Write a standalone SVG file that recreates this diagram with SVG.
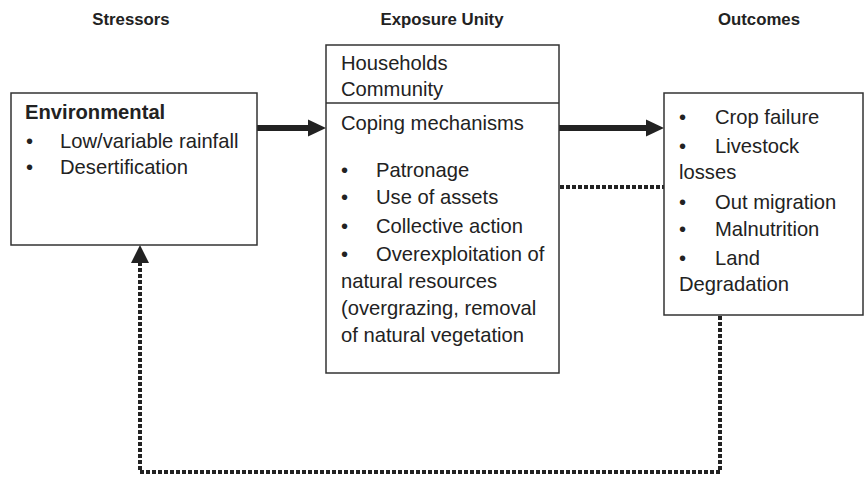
<svg xmlns="http://www.w3.org/2000/svg" width="865" height="487" viewBox="0 0 865 487">
<style>
.box{fill:#fff;stroke:#333;stroke-width:1.5}
.t{font-family:"Liberation Sans",Arial,sans-serif;font-size:20.2px;fill:#222}
.b{font-weight:bold}
.h{font-family:"Liberation Sans",Arial,sans-serif;font-size:16.8px;font-weight:bold;fill:#222;text-anchor:middle}
.solid{stroke:#222;stroke-width:6;fill:none}
.dot{stroke:#222;stroke-width:4;fill:none;stroke-dasharray:4 2}
.head{fill:#222}
</style>
<rect width="865" height="487" fill="#fff"/>
<g id="headers">
<text class="h" x="131" y="25">Stressors</text>
<text class="h" x="442" y="25">Exposure Unity</text>
<text class="h" x="759" y="25">Outcomes</text>
</g>
<g id="connectors">
<line class="solid" x1="257" y1="128" x2="310" y2="128"/>
<polygon class="head" points="308,119.5 326,128 308,136.5"/>
<line class="solid" x1="559" y1="128" x2="648" y2="128"/>
<polygon class="head" points="646,119.5 664,128 646,136.5"/>
<line class="dot" x1="560" y1="187" x2="664" y2="187"/>
<path class="dot" d="M720 316 V472 H140 V262"/>
<polygon class="head" points="131,263 140,245 149,263"/>
</g>
<g id="stressors">
<rect class="box" x="11" y="93" width="246" height="152"/>
<text class="t b" x="25" y="119">Environmental</text>
<text class="t" x="26" y="148">•</text><text class="t" x="60" y="148">Low/variable rainfall</text>
<text class="t" x="26" y="174">•</text><text class="t" x="60" y="174">Desertification</text>
</g>
<g id="exposure">
<rect class="box" x="326" y="45" width="233" height="328"/>
<line x1="326" y1="103" x2="559" y2="103" stroke="#333" stroke-width="1.5"/>
<text class="t" x="341" y="70">Households</text>
<text class="t" x="341" y="96">Community</text>
<text class="t" x="341" y="130">Coping mechanisms</text>
<text class="t" x="341" y="177">•</text><text class="t" x="376" y="177">Patronage</text>
<text class="t" x="341" y="204">•</text><text class="t" x="376" y="204">Use of assets</text>
<text class="t" x="341" y="233">•</text><text class="t" x="376" y="233">Collective action</text>
<text class="t" x="341" y="261">•</text><text class="t" x="376" y="261">Overexploitation of</text>
<text class="t" x="341" y="288">natural resources</text>
<text class="t" x="341" y="315">(overgrazing, removal</text>
<text class="t" x="341" y="342">of natural vegetation</text>
</g>
<g id="outcomes">
<rect class="box" x="664" y="93" width="199" height="222"/>
<text class="t" x="679" y="124">•</text><text class="t" x="715" y="124">Crop failure</text>
<text class="t" x="679" y="153">•</text><text class="t" x="715" y="153">Livestock</text>
<text class="t" x="679" y="179">losses</text>
<text class="t" x="679" y="209">•</text><text class="t" x="715" y="209">Out migration</text>
<text class="t" x="679" y="236">•</text><text class="t" x="715" y="236">Malnutrition</text>
<text class="t" x="679" y="265">•</text><text class="t" x="715" y="265">Land</text>
<text class="t" x="679" y="291">Degradation</text>
</g>
</svg>
